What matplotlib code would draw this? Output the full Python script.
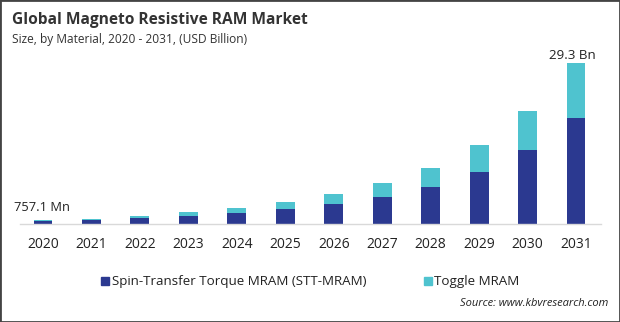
"""Global Magneto Resistive RAM market, stacked bars by material."""

import matplotlib.pyplot as plt
from matplotlib.patches import Rectangle
import numpy as np

YEARS = ["2020", "2021", "2022", "2023", "2024", "2025",
         "2026", "2027", "2028", "2029", "2030", "2031"]
STT_MRAM = [0.55, 0.75, 1.1, 1.5, 2.0, 2.7, 3.6, 4.9, 6.7, 9.5, 13.5, 19.2]
TOGGLE_MRAM = [0.207, 0.2, 0.35, 0.7, 0.9, 1.3, 1.9, 2.6, 3.5, 4.9, 7.0, 10.1]
FIRST_LABEL = "757.1 Mn"
LAST_LABEL = "29.3 Bn"

NAVY = "#2b3990"
CYAN = "#4fc3cf"
TEXT = "#333333"

plt.rcParams["font.family"] = ["Open Sans", "DejaVu Sans"]

W, H = 620, 322
fig = plt.figure(figsize=(W / 100, H / 100), dpi=100)


def fx(px):
    return px / W


def fy(py):
    return 1 - py / H


ax = fig.add_axes([fx(20), fy(224), fx(601) - fx(20), fy(63) - fy(224)])
x = np.arange(len(YEARS))
ax.bar(x, STT_MRAM, width=0.39, color=NAVY)
ax.bar(x, TOGGLE_MRAM, width=0.39, bottom=STT_MRAM, color=CYAN)
ax.set_xlim(-0.475, 11.516)
ax.set_ylim(0, 29.3)
ax.set_yticks([])
ax.set_xticks(x)
ax.set_xticklabels(YEARS, fontsize=10, color="#222222")
ax.tick_params(axis="x", length=0, pad=9)
for side in ("left", "right", "top"):
    ax.spines[side].set_visible(False)
ax.spines["bottom"].set_color("#d9d9d9")
ax.spines["bottom"].set_linewidth(1.0)

total_first = STT_MRAM[0] + TOGGLE_MRAM[0]
total_last = STT_MRAM[-1] + TOGGLE_MRAM[-1]
ax.text(x[0] - 0.02, total_first + 1.0, FIRST_LABEL, ha="center", va="bottom",
        fontsize=9.3, color="#222222", clip_on=False)
ax.text(x[-1] - 0.08, total_last + 0.1, LAST_LABEL, ha="center", va="bottom",
        fontsize=9.6, color="#222222", clip_on=False)

fig.text(fx(12), fy(20), "Global Magneto Resistive RAM Market", fontsize=11.2,
         fontweight="bold", color=TEXT, va="center")
fig.text(fx(12), fy(40), "Size, by Material, 2020 - 2031, (USD Billion)",
         fontsize=8.6, color=TEXT, va="center")

# legend drawn by hand to match the spread-out layout
fig.patches.append(Rectangle((fx(101), fy(285)), fx(8), fy(277) - fy(285),
                             transform=fig.transFigure, color=NAVY))
fig.text(fx(112), fy(281), "Spin-Transfer Torque MRAM (STT-MRAM)", fontsize=9.6,
         color="#222222", va="center")
fig.patches.append(Rectangle((fx(424), fy(285)), fx(8), fy(277) - fy(285),
                             transform=fig.transFigure, color=CYAN))
fig.text(fx(434), fy(281), "Toggle MRAM", fontsize=9.6, color="#222222",
         va="center")

fig.text(fx(608), fy(303), "Source: www.kbvresearch.com", fontsize=8,
         style="italic", color="#222222", ha="right", va="center")

fig.patches.append(Rectangle((0, 0), 1, 1, transform=fig.transFigure,
                             fill=False, edgecolor="#444444", linewidth=2))

fig.savefig("out.png", dpi=100)
